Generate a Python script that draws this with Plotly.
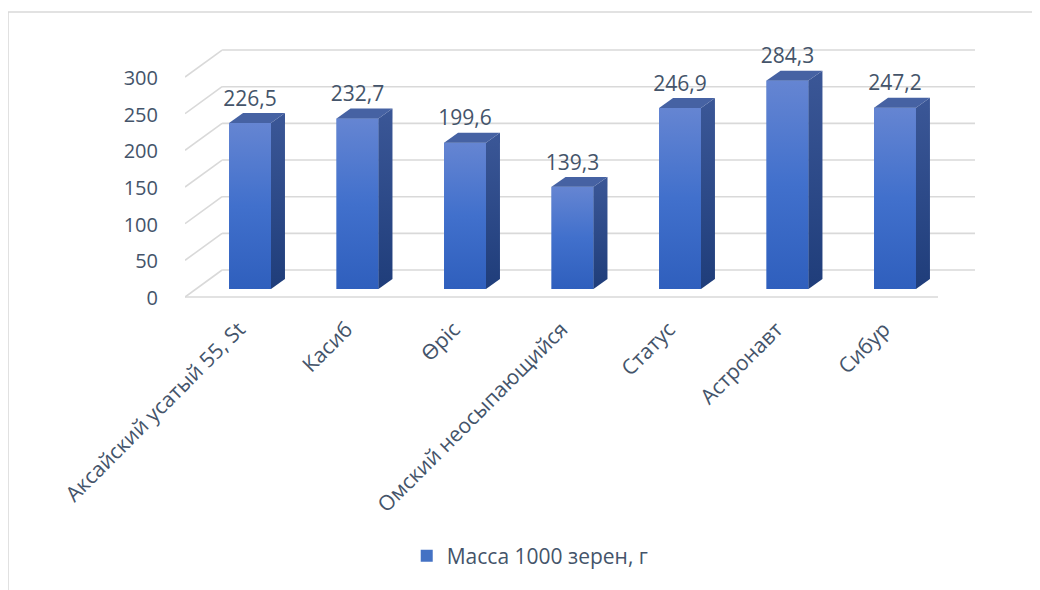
import plotly.graph_objects as go

# ---------------- data ----------------
categories = ["Аксайский усатый 55, St", "Касиб", "Өріс", "Омский неосыпающийся",
              "Статус", "Астронавт", "Сибур"]
values = [226.5, 232.7, 199.6, 139.3, 246.9, 284.3, 247.2]
series_name = "Масса 1000 зерен, г"
y_ticks = [0, 50, 100, 150, 200, 250, 300]

# ---------------- pseudo-3D geometry (in axis units) ----------------
BAR_W = 0.39        # front face width (category units)
DEP_X = 0.13        # side-face depth along x
DEP_Y = 13.5        # side-face depth along y
WALL_X0 = -0.26     # back wall left start
FLOOR_FRONT_Y = -10.9
WALL_DY = 25.9      # back wall offset in value units
X_RANGE = [-0.605, 6.744]
Y_RANGE = [-15.0, 339.6]
FLOOR_FRONT_X1 = 6.40

TEXT = "#44546a"
GRID = "#d9d9d9"
FONT = "Open Sans"

fig = go.Figure()

xs = list(range(len(categories)))

# front faces (real bar trace)
fig.add_trace(go.Bar(
    x=xs, y=values, width=BAR_W, name=series_name,
    marker=dict(color="#4472c4", line=dict(width=0)),
    showlegend=True, hoverinfo="skip"))

for i, v in zip(xs, values):
    l, r = i - BAR_W / 2, i + BAR_W / 2
    # gradient overlay on front face
    fig.add_trace(go.Scatter(
        x=[l, r, r, l, l], y=[0, 0, v, v, 0], mode="lines", fill="toself",
        line=dict(width=0), fillgradient=dict(type="vertical",
            colorscale=[[0, "#2f5fbd"], [0.5, "#4170cc"], [1, "#6585d2"]]),
        showlegend=False, hoverinfo="skip"))
    # side face
    fig.add_trace(go.Scatter(
        x=[r, r + DEP_X, r + DEP_X, r, r], y=[0, DEP_Y, v + DEP_Y, v, 0],
        mode="lines", fill="toself", line=dict(width=0),
        fillgradient=dict(type="vertical",
            colorscale=[[0, "#1f3d7a"], [1, "#3b5797"]]),
        showlegend=False, hoverinfo="skip"))
    # top face
    fig.add_trace(go.Scatter(
        x=[l, r, r + DEP_X, l + DEP_X, l], y=[v, v, v + DEP_Y, v + DEP_Y, v],
        mode="lines", fill="toself", line=dict(width=0), fillcolor="#4662a3",
        showlegend=False, hoverinfo="skip"))

# data labels
fig.add_trace(go.Scatter(
    x=xs, y=[v + DEP_Y + 3 for v in values],
    mode="text", text=[f"{v:.1f}".replace(".", ",") for v in values],
    textposition="top center", textfont=dict(family=FONT, size=21, color=TEXT),
    showlegend=False, hoverinfo="skip"))

# grid: back wall, left wall diagonals, floor front edge
shapes = []
for t in y_ticks:
    shapes.append(dict(type="line", xref="x", yref="y", layer="below",
                       x0=WALL_X0, x1=X_RANGE[1], y0=t + WALL_DY, y1=t + WALL_DY,
                       line=dict(color=GRID, width=1.6)))
    shapes.append(dict(type="line", xref="x", yref="y", layer="below",
                       x0=X_RANGE[0], x1=WALL_X0, y0=t + FLOOR_FRONT_Y, y1=t + WALL_DY,
                       line=dict(color=GRID, width=1.6)))
shapes.append(dict(type="line", xref="x", yref="y", layer="below",
                   x0=X_RANGE[0], x1=FLOOR_FRONT_X1, y0=FLOOR_FRONT_Y, y1=FLOOR_FRONT_Y,
                   line=dict(color=GRID, width=1.6)))
# outer chart border
shapes.append(dict(type="rect", xref="paper", yref="paper",
                   x0=-0.224, x1=1.1, y0=-1.18, y1=1.108,
                   line=dict(color=GRID, width=1.5)))

fig.update_layout(
    width=1040, height=590,
    margin=dict(l=177, r=73, t=32, b=298, autoexpand=False),
    paper_bgcolor="white", plot_bgcolor="white",
    font=dict(family=FONT, size=20, color=TEXT),
    shapes=shapes,
    showlegend=True,
    legend=dict(orientation="h", x=0.437, xanchor="center", y=-0.985, yanchor="middle",
                font=dict(family=FONT, size=21, color=TEXT)),
    xaxis=dict(range=X_RANGE, tickvals=xs, ticktext=categories, tickangle=-45,
               showgrid=False, zeroline=False, showline=False, ticks="",
               automargin=False,
               tickfont=dict(family=FONT, size=21, color=TEXT),
               ticklabelstandoff=12, ticklabelshift=-11),
    yaxis=dict(range=Y_RANGE, tickvals=y_ticks, ticktext=[str(t) for t in y_ticks],
               showgrid=False, zeroline=False, showline=False, ticks="",
               automargin=False,
               tickfont=dict(family=FONT, size=20, color=TEXT),
               ticklabelstandoff=26, ticklabelshift=9),
)

fig.write_html("out.html")
